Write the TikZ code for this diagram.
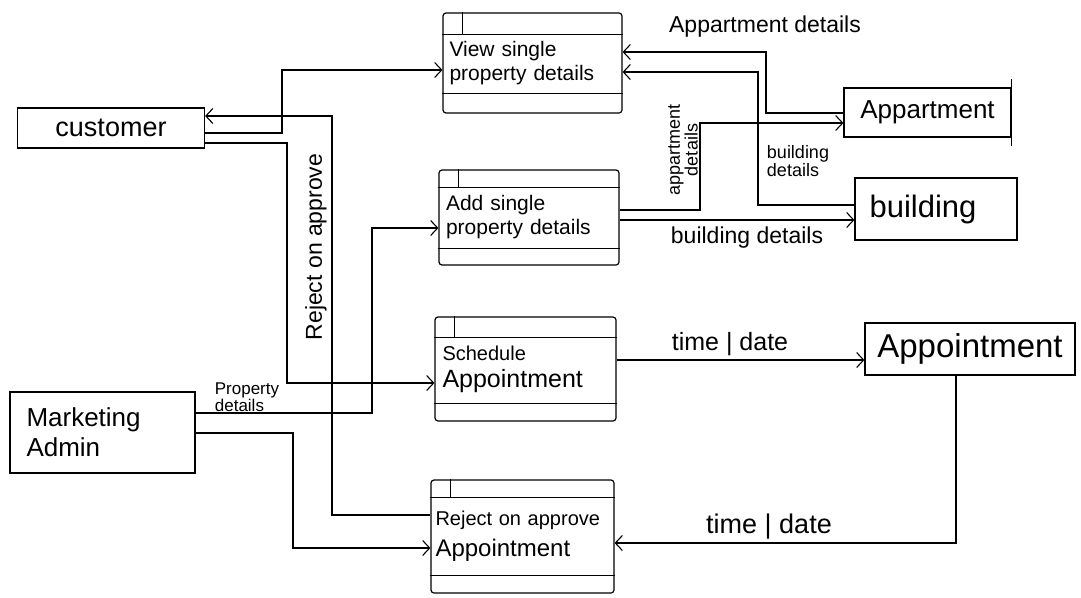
\documentclass[tikz,border=0pt]{standalone}
\usepackage{fontspec}
\setmainfont{Liberation Sans}
\usetikzlibrary{arrows.meta}
\tikzset{
  ent/.style={draw, line width=1.2pt, inner sep=0pt, align=center},
  proc/.style={draw, line width=1.2pt, rounded corners=3pt, inner sep=0pt, align=left, text width=166pt},
  flow/.style={line width=1.1pt, -{Straight Barb[length=7pt,width=15pt,line width=1.1pt]}},
  lbl/.style={inner sep=0pt, align=left},
}
\newcommand{\fs}[1]{\fontsize{#1}{#1}\selectfont}
\newcommand{\fsb}[2]{\fontsize{#1}{#2}\selectfont}
\begin{document}
\begin{tikzpicture}[x=1pt,y=-1pt]
\useasboundingbox (0,0) rectangle (1081,597);
% entities
\node[ent, minimum width=187pt, minimum height=40pt, font=\fs{27}] (customer) at (111,128) {customer};
\node[ent, minimum width=185pt, minimum height=81pt, font=\fs{26}, align=left, text width=152pt] (marketing) at (102.5,432.5) {Marketing\\[4pt]Admin};
\node[ent, minimum width=167pt, minimum height=49pt, font=\fs{26}] (apart) at (927.5,112.5) {Appartment};
\node[ent, minimum width=162pt, minimum height=62pt, font=\fs{31}] (building) at (936,209) {\hspace*{-26pt}building};
\node[ent, minimum width=210pt, minimum height=52pt, font=\fs{33}] (appoint) at (970,349) {Appointment};
\draw[line width=1.2pt] ([yshift=8pt]apart.north east) -- ([yshift=-8pt]apart.south east);
% processes
\node[proc, minimum width=179pt, minimum height=100pt, font=\fsb{21}{24}] (view) at (532.5,63) {View single\\property details};
\node[proc, minimum width=180pt, minimum height=95pt, font=\fsb{21}{24}] (add) at (529,217.5) {Add single\\property details};
\node[proc, minimum width=181pt, minimum height=104pt, font=\fsb{20}{23}] (sched) at (525.5,369) {Schedule\\[4pt]\fs{25}Appointment};
\node[proc, minimum width=183pt, minimum height=113pt, text width=174pt, font=\fsb{20}{23}] (reject) at (522.5,536.5) {\mbox{Reject on approve}\\[8pt]\fs{24}Appointment};
\foreach \n/\t/\b in {view/22/20, add/18/17, sched/21/18, reject/18/18}{
  \draw[line width=1.2pt] ([yshift=-\t pt]\n.north west) -- ([yshift=-\t pt]\n.north east);
  \draw[line width=1.2pt] ([yshift=\b pt]\n.south west) -- ([yshift=\b pt]\n.south east);
  \draw[line width=1.2pt] ([xshift=20pt]\n.north west) -- ([xshift=20pt,yshift=-\t pt]\n.north west);
}
% connectors
\draw[flow] (customer.east |- 0,133) -- (282,133) -- (282,70) -- (view.west |- 0,70);
\draw[flow] (customer.east |- 0,143) -- (287,143) -- (287,383) -- (sched.west |- 0,383);
\draw[flow] (reject.west |- 0,515) -- (332,515) -- (332,116) -- (customer.east |- 0,116);
\draw[flow] (marketing.east |- 0,413) -- (372,413) -- (372,228) -- (add.west |- 0,228);
\draw[flow] (marketing.east |- 0,433) -- (293,433) -- (293,548) -- (reject.west |- 0,548);
\draw[flow] (apart.west |- 0,113) -- (766,113) -- (766,52) -- (view.east |- 0,52);
\draw[flow] (building.west |- 0,205) -- (758,205) -- (758,72) -- (view.east |- 0,72);
\draw[flow] (add.east |- 0,210) -- (700,210) -- (700,123) -- (apart.west |- 0,123);
\draw[flow] (add.east |- 0,220) -- (building.west |- 0,220);
\draw[flow] (sched.east |- 0,360) -- (appoint.west |- 0,360);
\draw[flow] (appoint.south -| 956,0) -- (956,543) -- (reject.east |- 0,543);
% labels
\node[lbl, font=\fs{23}] (l1) at (765,27) {Appartment details};
\node[lbl, font=\fsb{18}{14}, rotate=90, align=center] (l2) at (683,150) {appartment\\details};
\node[lbl, font=\fsb{18}{14}] (l3) at (798,161) {building\\details};
\node[lbl, font=\fs{23}] (l4) at (747,238) {building details};
\node[lbl, font=\fs{25}] (l5) at (730,344) {time | date};
\node[lbl, font=\fs{27}] (l6) at (769,527) {time | date};
\node[lbl, font=\fs{23}, rotate=90] (l7) at (316,247) {Reject on approve};
\node[lbl, font=\fsb{17}{11}, align=left] (l8) at (247,397) {Property\\details};
\end{tikzpicture}
\end{document}
